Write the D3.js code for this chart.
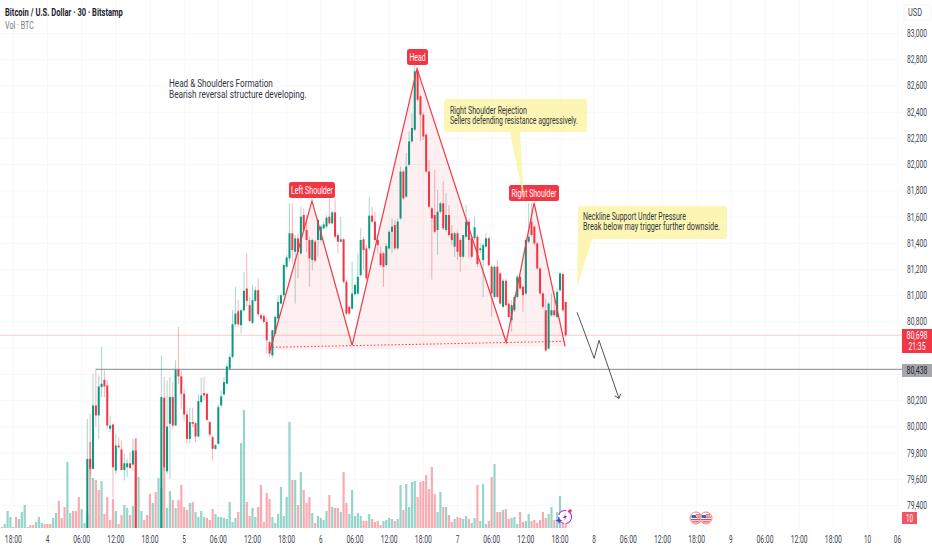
<!DOCTYPE html>
<html>
<head>
<meta charset="utf-8">
<script src="https://cdn.jsdelivr.net/npm/d3@7"></script>
<style>
  html, body { margin: 0; padding: 0; background: #fff; }
  svg { display: block; }
  text { font-family: "Liberation Sans Narrow", "Roboto", sans-serif; }
</style>
</head>
<body>
<svg id="chart" width="932" height="550"></svg>
<script>
const WIDTH = 932, HEIGHT = 550;

// bar index = half hours since the first 18:00 on the axis
const timeTickBars = [0, 12, 24, 36, 48, 60, 72, 84, 96, 108, 120, 132, 144, 156, 168, 180, 192, 204, 216, 228, 240, 252, 264, 276, 288, 300, 310.5];
const timeTickLabels = ["18:00", "4", "06:00", "12:00", "18:00", "5", "06:00", "12:00", "18:00", "6", "06:00", "12:00", "18:00", "7", "06:00", "12:00", "18:00", "8", "06:00", "12:00", "18:00", "9", "06:00", "12:00", "18:00", "10", "06"];
const priceTicks = [83000, 82800, 82600, 82400, 82200, 82000, 81800, 81600, 81400, 81200, 81000, 80800, 80600, 80400, 80200, 80000, 79800, 79600, 79400];
// these two sit behind the price tags
const coveredTicks = [80600, 80400];

// candles start at bar 26, the ones before and in the gap sit under the visible range
const firstCandleBar = 26;
const opens = [
  79222,79755,79679,80163,80087,80303,80359,80316,79985,80018,
  79666,79857,79827,79671,79692,79722,79712,79819,
  null,null,null,null,null,null,null,null,
  79222,80222,79661,80023,80227,80010,80436,80385,80252,80094,
  79908,80036,80028,79926,80189,80257,80252,80036,79921,79832,
  79870,80163,80247,80329,80443,80533,
  80782,80882,80775,80889,81055,80928,80793,80961,81042,80851,
  80844,80800,80647,80545,80711,80826,80940,81004,81221,81285,
  81476,81335,81437,81323,81616,81501,81425,81272,81412,81425,
  81425,81514,81527,81603,81552,81636,81463,81412,81430,81106,
  80915,80902,81012,81017,81157,81430,81361,81361,81611,81565,
  81425,81323,81323,81234,81361,81488,81539,81361,
  81590,81947,81756,81998,82177,82266,82712,82521,82380,82228,
  81947,81667,81616,81501,81641,81705,81501,81616,81476,81374,
  81476,81425,81297,81450,81565,81438,81438,81450,81348,81272,
  81374,81438,81221,80991,81221,81170,80915,81114,80940,80813,
  80889,80991,81144,81068,81017,81412,81565,81527,81399,81208,
  81017,80889,80596,80851,80889,80838,81042,81165,80953];
const highs = [
  80061,80099,80405,80443,80392,80609,80431,80354,80087,80018,
  79946,79921,79895,79793,79755,79806,79908,79908,
  null,null,null,null,null,null,null,null,
  80545,80380,80354,80380,80341,80507,80762,80431,80291,80125,
  80145,80145,80036,80252,80375,80380,80252,80048,79934,79870,
  80171,80278,80380,80482,80558,80890,
  81068,80966,80902,81183,81323,80991,81081,81068,81132,80864,
  80864,80838,80660,80737,80851,81004,81017,81246,81310,81705,
  81705,81463,81476,81680,81667,81616,81450,81438,81425,81590,
  81540,81565,81615,81743,81650,81743,81476,81603,81440,81119,
  80928,81259,81090,81323,81514,81450,81387,81756,81680,81641,
  81438,81374,81335,81400,81500,81590,81578,81590,
  81985,81960,82087,82253,82393,82763,82737,82534,82393,82240,
  82036,81680,81960,81807,81718,81871,81781,81692,81539,81489,
  81489,81438,81463,81692,81590,81450,81603,81463,81400,81400,
  81476,81450,81234,81234,81272,81183,81132,81132,80966,80966,
  81004,81157,81157,81080,81438,81705,81705,81540,81412,81221,
  81030,80978,80951,81017,81042,81055,81183,81170,80953];
const lows = [
  79200,79640,79679,79997,79908,80227,80227,79985,79959,79462,
  79640,79832,79666,79590,79615,79679,79666,79200,
  null,null,null,null,null,null,null,null,
  79200,79666,79640,79602,79985,80010,80329,80138,80048,79870,
  79875,79997,79883,79921,80176,80201,80048,79921,79742,79825,
  79865,80150,80240,80329,80431,80520,
  80762,80762,80711,80877,80915,80800,80782,80953,80838,80813,
  80787,80558,80533,80527,80698,80813,80935,80991,81208,81259,
  81246,80940,81132,81310,81489,81335,81068,81195,81251,81297,
  81412,81506,81520,81540,81545,81438,81323,81405,81093,80851,
  80851,80889,81000,81004,81144,81195,81119,81348,81552,81412,
  81323,81221,81068,81221,81348,81323,81348,81348,
  81577,81730,81743,81985,82164,82253,82482,82177,82189,81934,
  81666,81124,81475,81310,81629,81501,81488,81450,81386,81297,
  81272,81182,81284,81437,81285,81284,81425,81220,81322,80991,
  81361,81220,80838,80978,80978,80927,80902,80915,80825,80724,
  80876,80978,81042,80877,81004,81399,81450,81387,81195,81004,
  80902,80571,80596,80838,80838,80825,81029,80876,80686];
const closes = [
  79755,79680,80163,80087,80308,80329,80308,80010,80010,79692,
  79857,79844,79671,79722,79722,79686,79819,79222,
  null,null,null,null,null,null,null,null,
  80227,79692,80002,80227,80010,80436,80385,80252,80094,79908,
  80036,80023,79926,80196,80240,80240,80053,79941,79832,79860,
  80150,80232,80341,80461,80533,80782,
  80864,80782,80889,81037,80961,80808,80966,81042,80859,80826,
  80800,80660,80558,80737,80838,80953,81004,81234,81292,81476,
  81348,81437,81335,81603,81501,81425,81285,81425,81267,81578,
  81527,81544,81595,81552,81636,81450,81412,81430,81106,80864,
  80864,81017,81082,81144,81425,81348,81132,81611,81565,81425,
  81386,81234,81221,81379,81488,81527,81361,81565,
  81947,81743,81985,82177,82279,82712,82495,82380,82215,81947,
  81679,81590,81488,81641,81705,81514,81616,81463,81425,81476,
  81335,81297,81463,81565,81425,81297,81522,81241,81361,81386,
  81438,81233,81017,81221,80991,80940,81114,80928,80838,80928,
  80991,81144,81055,81004,81425,81450,81463,81399,81208,81017,
  80915,80583,80940,80889,80851,81030,81170,80889,80698];

const firstVolumeBar = -4;
const volumes = [
  1,4,17,11,1,11,9,16,23,1,
  3,3,6,11,5,4,4,4,10,15,
  27,10,21,66,15,17,17,31,19,5,
  15,86,50,48,38,47,14,31,8,29,
  17,4,13,23,20,13,22,90,51,17,
  8,13,34,25,36,50,40,61,20,37,
  28,20,28,43,21,18,25,26,16,11,
  17,11,10,8,19,14,11,11,10,9,
  26,6,10,16,85,118,26,12,20,11,
  21,43,6,35,29,11,5,14,41,12,
  31,106,48,48,23,56,38,25,31,15,
  5,12,10,8,17,33,21,20,20,16,
  56,25,14,38,12,15,12,7,7,14,
  9,6,7,3,7,8,10,9,7,9,
  43,18,44,21,46,47,31,46,47,53,
  39,61,34,16,36,21,21,13,6,9,
  11,10,9,12,9,5,10,43,7,44,
  4,7,51,64,16,16,18,19,9,10,
  11,4,16,6,7,14,7,8,5,8,
  16,10,14,21,8,16,32,14,10];
// g = up bar, p = down bar, same order as volumes
const volumeSides = [
  "pggggpgggg","ppgggpppgg","pppggpppgg","gpgppgpppp","gppggpgpgg",
  "pppgpggpgg","pgppppgpgg","ggpppggggg","gggpggppgg","pppppggggg",
  "ggpgpgpppg","pggggpgppg","ppgggggppg","ppppggggpg","gpggggpppp",
  "pppggpgppg","ppggpggpgg","gppgppgppg","ggppggpppp","ppggpggpp"].join("");

// head and shoulders pattern
const patternBars = [90.2, 104.9, 119, 141.8, 173.1, 182.9, 193.8];
const patternPrices = [80584, 81723, 80622, 82732, 80645, 81708, 80614];
const necklineBars = [91, 193.3];
const necklinePrices = [80607, 80652];
const arrowBars = [198, 204, 205.7, 212.7];
const arrowPrices = [80874, 80522, 80660, 80217];

const lastPrice = 80698, lastPriceLabel = "80,698", countdown = "21:35";
const levelPrice = 80438, levelLabel = "80,438", levelStartBar = 29;
const lastVolumeLabel = "10";

const GREEN = "#089981", RED = "#f23645", TEXT = "#3d4250";
const plotW = 902, plotB = 528;

const svg = d3.select("#chart");
const x = d3.scaleLinear().domain([0, 192]).range([13.3, 560]);
const y = d3.scaleLinear().domain([83000, 79400]).range([33.5, 505.5]);
const yVol = d3.scaleLinear().domain([0, 118]).range([plotB, plotB - 118]);

// the reference text is squeezed sideways, so fit each string to its read width
function label(g, px, py, str, opts) {
  opts = opts || {};
  const t = g.append("text").text(str)
    .attr("font-size", opts.size || 10)
    .attr("fill", opts.fill || TEXT)
    .attr("text-anchor", opts.anchor || "start");
  if (opts.bold) t.attr("font-weight", 700);
  const sx = opts.width ? opts.width / t.node().getComputedTextLength() : 1;
  t.attr("transform", `translate(${px},${py}) scale(${sx},1)`);
  return t;
}

svg.append("rect").attr("width", WIDTH).attr("height", HEIGHT).attr("fill", "#fff");

svg.append("clipPath").attr("id", "plot").append("rect")
  .attr("width", plotW).attr("height", plotB);

// faint grid
const grid = svg.append("g").attr("stroke", "#f7f8fa").attr("stroke-width", 1);
grid.selectAll("line.h").data(priceTicks).enter().append("line")
  .attr("class", "h").attr("x1", 0).attr("x2", plotW).attr("y1", d => y(d)).attr("y2", d => y(d));
grid.selectAll("line.v").data(timeTickBars).enter().append("line")
  .attr("class", "v").attr("x1", d => x(d)).attr("x2", d => x(d)).attr("y1", 0).attr("y2", plotB);

const plot = svg.append("g").attr("clip-path", "url(#plot)");

// price lines
plot.append("line").attr("x1", 0).attr("x2", plotW)
  .attr("y1", y(lastPrice)).attr("y2", y(lastPrice))
  .attr("stroke", RED).attr("stroke-opacity", 0.25).attr("stroke-width", 1);
plot.append("line").attr("x1", x(levelStartBar)).attr("x2", plotW)
  .attr("y1", y(levelPrice)).attr("y2", y(levelPrice))
  .attr("stroke", "#9da0a8").attr("stroke-width", 1.4);

// volume
const volW = 2.2;
plot.append("g").selectAll("rect").data(volumes).enter().append("rect")
  .attr("x", (d, i) => x(firstVolumeBar + i) - volW / 2)
  .attr("width", volW)
  .attr("y", d => yVol(d))
  .attr("height", d => plotB - yVol(d))
  .attr("fill", (d, i) => volumeSides[i] === "g" ? GREEN : RED)
  .attr("fill-opacity", 0.42);

// candles
const candles = opens.map((o, i) => ({ bar: firstCandleBar + i, o, h: highs[i], l: lows[i], c: closes[i] }))
  .filter(d => d.o !== null);
const candleG = plot.append("g").selectAll("g").data(candles).enter().append("g")
  .attr("fill", d => d.c >= d.o ? GREEN : RED)
  .attr("stroke", d => d.c >= d.o ? GREEN : RED);
candleG.append("line")
  .attr("x1", d => x(d.bar)).attr("x2", d => x(d.bar))
  .attr("y1", d => y(d.h)).attr("y2", d => y(d.l))
  .attr("stroke-width", 0.75).attr("stroke-opacity", 0.5);
const bodyW = 2;
candleG.append("rect")
  .attr("x", d => x(d.bar) - bodyW / 2).attr("width", bodyW)
  .attr("y", d => y(Math.max(d.o, d.c)))
  .attr("height", d => Math.max(0.8, Math.abs(y(d.o) - y(d.c))))
  .attr("stroke", "none");

// pattern fill, outline and neckline
const patternPts = patternBars.map((b, i) => [x(b), y(patternPrices[i])]);
plot.append("path").attr("d", d3.line()(patternPts) + "Z")
  .attr("fill", RED).attr("fill-opacity", 0.08).attr("stroke", "none");
plot.append("path").attr("d", d3.line()(patternPts))
  .attr("fill", "none").attr("stroke", RED).attr("stroke-width", 1.2);
plot.append("line")
  .attr("x1", x(necklineBars[0])).attr("x2", x(necklineBars[1]))
  .attr("y1", y(necklinePrices[0])).attr("y2", y(necklinePrices[1]))
  .attr("stroke", RED).attr("stroke-width", 1).attr("stroke-dasharray", "1.5 2");

// projected move
const arrowPts = arrowBars.map((b, i) => [x(b), y(arrowPrices[i])]);
plot.append("path").attr("d", d3.line()(arrowPts))
  .attr("fill", "none").attr("stroke", "#3c3f47").attr("stroke-width", 0.9);
const tip = arrowPts[arrowPts.length - 1], prev = arrowPts[arrowPts.length - 2];
const ang = Math.atan2(tip[1] - prev[1], tip[0] - prev[0]);
plot.append("path")
  .attr("d", d3.line()([
    [tip[0] - 5 * Math.cos(ang - 0.7), tip[1] - 5 * Math.sin(ang - 0.7)],
    tip,
    [tip[0] - 5 * Math.cos(ang + 0.7), tip[1] - 5 * Math.sin(ang + 0.7)]]))
  .attr("fill", "none").attr("stroke", "#3c3f47").attr("stroke-width", 0.9);

// pattern tags
const tags = svg.append("g");
function tag(x0, y0, w, str, tw) {
  tags.append("rect").attr("x", x0).attr("y", y0).attr("width", w).attr("height", 16)
    .attr("rx", 2.5).attr("fill", RED);
  label(tags, x0 + w / 2, y0 + 11.5, str, { fill: "#fff", anchor: "middle", width: tw });
}
tag(289, 182, 46, "Left Shoulder", 42);
tag(407, 49, 21, "Head", 16);
tag(509, 185, 50, "Right Shoulder", 45);

// yellow callouts
const notes = svg.append("g");
notes.append("path")
  .attr("d", "M447 99H584Q587 99 587 102V129Q587 132 584 132H520L524 201L510 132H447Q444 132 444 129V102Q444 99 447 99Z")
  .attr("fill", "#fbf3a0").attr("fill-opacity", 0.8);
label(notes, 450, 114, "Right Shoulder Rejection", { width: 77, fill: "#33363f" });
label(notes, 450, 124, "Sellers defending resistance aggressively.", { width: 128, fill: "#33363f" });
notes.append("path")
  .attr("d", "M581 206H724Q727 206 727 209V236Q727 239 724 239H592L577 287L578 239V209Q578 206 581 206Z")
  .attr("fill", "#fbf3a0").attr("fill-opacity", 0.8);
label(notes, 583, 220, "Neckline Support Under Pressure", { width: 103, fill: "#33363f" });
label(notes, 583, 230, "Break below may trigger further downside.", { width: 137, fill: "#33363f" });

// free text
label(svg, 169, 87, "Head & Shoulders Formation", { width: 104, fill: "#33363f" });
label(svg, 169, 98, "Bearish reversal structure developing.", { width: 138, fill: "#33363f" });

// legend
label(svg, 5, 16, "Bitcoin / U.S. Dollar · 30 · Bitstamp", { width: 118, bold: true, fill: "#1d2230" });
label(svg, 5, 29, "Vol · BTC", { width: 29, fill: "#787b86" });

// price axis
const axisG = svg.append("g");
priceTicks.filter(d => !coveredTicks.includes(d)).forEach(d => {
  label(axisG, 917, y(d) + 3.5, d3.format(",")(d), { anchor: "middle", width: 20 });
});
axisG.append("rect").attr("x", 904).attr("y", 5).attr("width", 27).attr("height", 15)
  .attr("rx", 2).attr("fill", "none").attr("stroke", "#f3f4f6");
label(axisG, 915, 16, "USD", { anchor: "middle", width: 14 });

axisG.append("rect").attr("x", 902).attr("y", 329).attr("width", 30).attr("height", 24).attr("fill", RED);
label(axisG, 917, 338.5, lastPriceLabel, { anchor: "middle", fill: "#fff", width: 21 });
label(axisG, 917, 349.5, countdown, { anchor: "middle", fill: "#fff", width: 17 });
axisG.append("rect").attr("x", 902).attr("y", 364).attr("width", 30).attr("height", 13).attr("fill", "#a6a7ab");
label(axisG, 917, 373.5, levelLabel, { anchor: "middle", fill: "#20232c", width: 21 });
axisG.append("rect").attr("x", 902).attr("y", 512).attr("width", 15).attr("height", 12).attr("fill", "#f0565f");
label(axisG, 909.5, 521.5, lastVolumeLabel, { anchor: "middle", fill: "#fff", width: 7 });

// time axis
const timeG = svg.append("g");
timeTickBars.forEach((b, i) => {
  const s = timeTickLabels[i];
  label(timeG, x(b), 543, s, { anchor: "middle", width: s.length === 5 ? 17 : s.length * 3.6 });
});

// event icons
const flag = svg.append("g");
[696, 706].forEach(cx => {
  const f = flag.append("g").attr("transform", `translate(${cx},518)`);
  f.append("circle").attr("r", 6).attr("fill", "#fff").attr("stroke", "#f0828a").attr("stroke-width", 1);
  f.append("path").attr("d", "M-4.5 -3H0V0H-4.5Z").attr("fill", "#3c62d8");
  f.append("path").attr("d", "M0 -3.2H4M0 -0.8H5M-5 1.6H5M-3.5 3.9H3.5").attr("stroke", "#ec4650").attr("stroke-width", 1.2);
});
const bolt = svg.append("g").attr("transform", "translate(565,517)");
bolt.append("circle").attr("r", 6.5).attr("fill", "#fff").attr("stroke", "#a72fd8").attr("stroke-width", 1.1)
  .attr("stroke-dasharray", "9 2");
bolt.append("path").attr("d", "M1 -4L-2 1H0L-1 4L2 -1H0Z").attr("fill", "#a72fd8");
bolt.append("circle").attr("cx", 5).attr("cy", -6).attr("r", 1.7).attr("fill", RED);
bolt.append("path").attr("d", "M-6 0L-5 2.5L-2.5 3.5L-5 4.5L-6 7L-7 4.5L-9.5 3.5L-7 2.5Z").attr("fill", "#4b3fe0");
</script>
</body>
</html>
